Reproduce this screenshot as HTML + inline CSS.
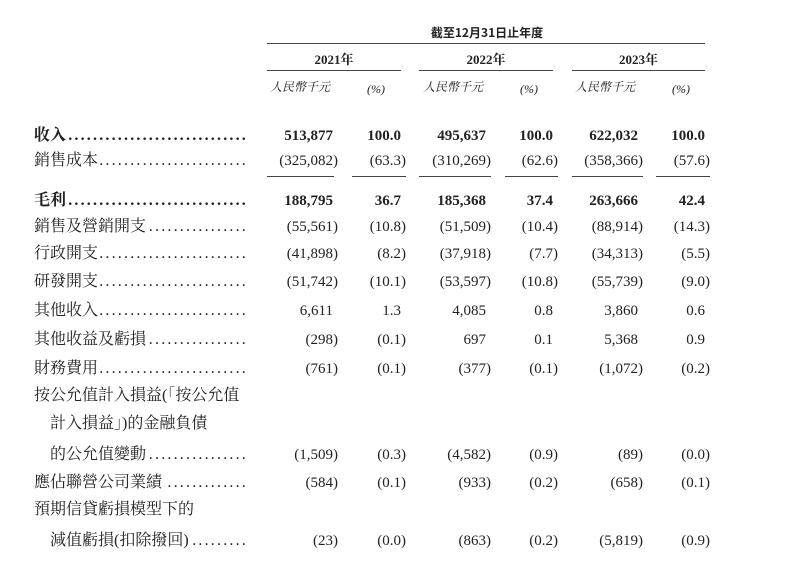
<!DOCTYPE html>
<html><head><meta charset="utf-8"><style>
body{margin:0;width:785px;height:581px;background:#fff;position:relative;overflow:hidden;font-family:"Liberation Serif","Noto Serif CJK SC",serif;color:#222;}
.t{position:absolute;font-size:15px;line-height:18px;white-space:nowrap;}
.l{left:34px;width:214px;display:flex;font-size:16px;}
.l .d{flex:1;overflow:hidden;text-align:right;letter-spacing:2.2px;direction:rtl;margin-left:2px;}
.r{text-align:right;}
.b{font-weight:bold;}
.hl{position:absolute;height:1px;background:#444;}
.sm{font-size:12px;font-style:italic;}
</style></head><body>
<div class="t b" style="left:420px;top:24px;font-size:12px;width:134px;text-align:center;font-family:'Noto Sans CJK SC',sans-serif;">截至12月31日止年度</div>
<div class="hl" style="left:267px;top:43px;width:438px"></div>
<div class="t b" style="left:267px;top:51px;width:134px;text-align:center;font-size:13px">2021年</div>
<div class="t b" style="left:419px;top:51px;width:134px;text-align:center;font-size:13px">2022年</div>
<div class="t b" style="left:572px;top:51px;width:133px;text-align:center;font-size:13px">2023年</div>
<div class="hl" style="left:267px;top:70px;width:134px"></div>
<div class="hl" style="left:419px;top:70px;width:134px"></div>
<div class="hl" style="left:572px;top:70px;width:133px"></div>
<div class="t sm" style="left:270px;top:78px">人民幣千元</div><div class="t sm" style="left:367px;top:80px">(%)</div>
<div class="t sm" style="left:423px;top:78px">人民幣千元</div><div class="t sm" style="left:520px;top:80px">(%)</div>
<div class="t sm" style="left:575px;top:78px">人民幣千元</div><div class="t sm" style="left:672px;top:80px">(%)</div>
<div id="rows"></div>
<div class="hl" style="left:267px;top:176px;width:67px"></div>
<div class="hl" style="left:352px;top:176px;width:54px"></div>
<div class="hl" style="left:419px;top:176px;width:72px"></div>
<div class="hl" style="left:505px;top:176px;width:53px"></div>
<div class="hl" style="left:572px;top:176px;width:71px"></div>
<div class="hl" style="left:656px;top:176px;width:54px"></div>
<script>
var R=[
[136,"收入 ",1,["513,877","100.0","495,637","100.0","622,032","100.0"]],
[161,"銷售成本",0,["(325,082)","(63.3)","(310,269)","(62.6)","(358,366)","(57.6)"]],
[201,"毛利 ",1,["188,795","36.7","185,368","37.4","263,666","42.4"]],
[227,"銷售及營銷開支",0,["(55,561)","(10.8)","(51,509)","(10.4)","(88,914)","(14.3)"]],
[254,"行政開支",0,["(41,898)","(8.2)","(37,918)","(7.7)","(34,313)","(5.5)"]],
[282,"研發開支",0,["(51,742)","(10.1)","(53,597)","(10.8)","(55,739)","(9.0)"]],
[311,"其他收入",0,["6,611","1.3","4,085","0.8","3,860","0.6"]],
[340,"其他收益及虧損",0,["(298)","(0.1)","697","0.1","5,368","0.9"]],
[369,"財務費用",0,["(761)","(0.1)","(377)","(0.1)","(1,072)","(0.2)"]],
[396,"按公允值計入損益(「按公允值",0,null,1],
[424,"　計入損益」)的金融負債",0,null,1],
[455,"　的公允值變動",0,["(1,509)","(0.3)","(4,582)","(0.9)","(89)","(0.0)"]],
[483,"應佔聯營公司業績",0,["(584)","(0.1)","(933)","(0.2)","(658)","(0.1)"]],
[510,"預期信貸虧損模型下的",0,null,1],
[541,"　減值虧損(扣除撥回)",0,["(23)","(0.0)","(863)","(0.2)","(5,819)","(0.9)"]]];
var X=[338,406,491,558,643,710],h="";
var dots="..................................................";
R.forEach(function(r){var y=r[0]-9,c="t l"+(r[2]?" b":"");
h+='<div class="'+c+'" style="top:'+y+'px"><span>'+r[1]+'</span>'+(r[4]?'':'<span class="d">'+dots+'</span>')+'</div>';
if(r[3])r[3].forEach(function(v,i){var p=/\)$/.test(v)?0:5;
h+='<div class="t r'+(r[2]?" b":"")+'" style="top:'+y+'px;right:'+(785-X[i]+p)+'px">'+v+'</div>';});});
document.getElementById("rows").innerHTML=h;
</script>
</body></html>
